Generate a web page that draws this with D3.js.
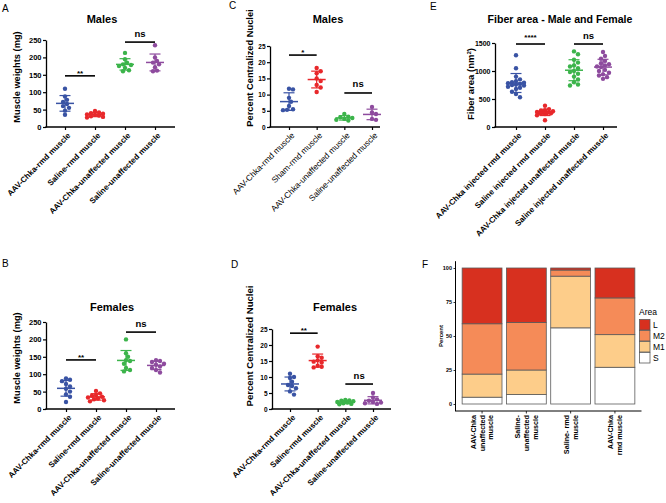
<!DOCTYPE html>
<html><head><meta charset="utf-8">
<script src="https://cdn.jsdelivr.net/npm/d3@7"></script>
<style>body{margin:0;background:#fff}svg{display:block}text{font-family:"Liberation Sans",Arial,sans-serif}</style>
</head><body><svg id="c" width="666" height="503"></svg>
<script>
// ---------------- DATA ----------------
const catsA = ["AAV-Chka-rmd muscle","Saline-rmd muscle","AAV-Chka-unaffected muscle","Saline-unaffected muscle"];
const catsC = ["AAV-Chka-rmd muscle","Sham-rmd muscle","AAV-Chka-unaffected muscle","Saline-unaffected muscle"];
const catsE = ["AAV-Chka injected rmd muscle","Saline injected rmd muscle","AAV-Chka injected unaffected muscle","Saline injected unaffected muscle"];

// A: male muscle weights (mg)
const maleWeights = [
  [110, 88, 78, 72, 66, 60, 55, 47, 35],
  [46, 42, 40, 38, 36, 35, 33, 31, 29, 27],
  [213, 195, 185, 180, 178, 175, 170, 163, 160],
  [235, 200, 190, 185, 180, 172, 162, 160]
];
// B: female muscle weights (mg)
const femaleWeights = [
  [88, 84, 80, 72, 65, 58, 50, 42, 35, 20],
  [52, 45, 40, 38, 35, 33, 30, 28, 25, 22],
  [200, 160, 150, 140, 138, 130, 118, 112, 108],
  [140, 138, 135, 130, 127, 122, 118, 112, 105]
];
// C: male percent centralized nuclei
const maleNuclei = [
  [11.8, 11.6, 9.0, 7.8, 6.5, 5.5, 5.3, 5.2],
  [18.2, 17.2, 16.6, 15.0, 14.2, 13.0, 12.2, 10.8],
  [4.0, 3.2, 3.0, 2.8, 2.5, 2.2, 2.0],
  [6.2, 4.5, 4.0, 2.5, 2.2]
];
// D: female percent centralized nuclei
const femaleNuclei = [
  [11.0, 10.0, 9.7, 8.5, 7.5, 7.2, 6.5, 5.5, 4.5],
  [19.5, 16.5, 16.0, 15.2, 14.8, 14.5, 13.5, 13.2, 13.0],
  [2.8, 2.7, 2.6, 2.4, 2.2, 2.0, 1.8, 1.6, 1.5],
  [5.0, 3.6, 3.0, 2.6, 2.2, 2.0, 1.8, 1.6]
];
// E: fiber area
const fiberArea = [
  [1280, 1050, 900, 850, 820, 800, 790, 780, 770, 760, 750, 740, 720, 700, 680, 630, 590, 530],
  [380, 320, 300, 290, 280, 270, 265, 260, 255, 250, 245, 240, 230, 210, 120],
  [1350, 1300, 1200, 1150, 1100, 1080, 1050, 1000, 980, 950, 900, 850, 800, 760, 740],
  [1340, 1270, 1220, 1180, 1140, 1120, 1100, 1080, 1070, 1020, 1000, 970, 940, 920, 890, 860]
];
// significance bars: group a, group b, value height, label
const sigA = [{a:0,b:1,v:147,label:"**"},{a:2,b:3,v:244,label:"ns"}];
const sigB = [{a:0,b:1,v:141,label:"**"},{a:2,b:3,v:221,label:"ns"}];
const sigC = [{a:0,b:1,v:22.2,label:"*"},{a:2,b:3,v:10.5,label:"ns"}];
const sigD = [{a:0,b:1,v:23.7,label:"**"},{a:2,b:3,v:7.8,label:"ns"}];
const sigE = [{a:0,b:1,v:1482,label:"****"},{a:2,b:3,v:1482,label:"ns"}];

const ticksWeight = [0, 50, 100, 150, 200, 250];
const ticksNuclei = [0, 5, 10, 15, 20, 25];
const ticksFiber = [0, 500, 1000, 1500];

// F: stacked percentages
const fCats = ["AAV-Chka unaffected muscle","Saline- unaffected muscle","Saline- rmd muscle","AAV-Chka rmd muscle"];
const fLabelLines = [["AAV-Chka","unaffected","muscle"],["Saline-","unaffected","muscle"],["Saline- rmd","muscle"],["AAV-Chka","rmd muscle"]];
const areaKeys = ["S","M1","M2","L"];
const pctS  = [5, 7, 56, 27];
const pctM1 = [17, 18, 38, 24];
const pctM2 = [37, 35, 4.5, 27];
const pctL  = [41, 40, 1.5, 22];
const ticksPct = [0, 25, 50, 75, 100];

// ---------------- STYLE ----------------
const FONT = '"Liberation Sans", Arial, sans-serif';
const colors = ["#3953A4","#E8282B","#3CB44B","#8E4B9E"];
const areaColor = {L:"#D7301F", M2:"#F58B58", M1:"#FDCD8A", S:"#FFFFFF"};
const svg = d3.select("#c");

// compact deterministic swarm offsets (pixels), limited width
function swarm(ys, d, maxOff){
  const order = d3.range(ys.length).sort((a,b)=>ys[a]-ys[b]);
  const placed = [], xs = new Array(ys.length);
  const cands = [0];
  for(let k=1;k*d/2<=maxOff;k++){ cands.push(k*d/2, -k*d/2); }
  order.forEach(i=>{
    let best = 0, bestScore = -1;
    for(const off of cands){
      const md = placed.length ? d3.min(placed, p=>Math.hypot(p.x-off, p.y-ys[i])) : Infinity;
      if(md >= d){ best = off; bestScore = Infinity; break; }
      if(md > bestScore){ bestScore = md; best = off; }
    }
    xs[i] = best; placed.push({x:best, y:ys[i]});
  });
  return xs;
}

function txt(g, x, y, s, fs, fw, anchor){
  return g.append("text").attr("x",x).attr("y",y).attr("font-size",fs)
    .attr("font-weight",fw||"normal").attr("text-anchor",anchor||"start")
    .attr("font-family",FONT).attr("fill","#000").text(s);
}

function dotPanel(o){
  const g = svg.append("g");
  const y = d3.scaleLinear().domain(o.yDomain).range(o.yRange);
  const x = d3.scalePoint().domain(o.cats).range(o.catRange);
  const ya = g.append("g").attr("transform",`translate(${o.ax0},0)`)
    .call(d3.axisLeft(y).tickValues(o.yTicks).tickFormat(d3.format("d")).tickSize(3).tickSizeOuter(0).tickPadding(1.5));
  ya.attr("font-family",FONT).attr("font-size",o.tickFs).attr("font-weight","bold");
  ya.select(".domain").attr("stroke","#000").attr("stroke-width",1.3);
  ya.selectAll(".tick line").attr("stroke-width",1.2);
  const xa = g.append("g").attr("transform",`translate(0,${o.yRange[0]})`)
    .call(d3.axisBottom(x).tickSize(3).tickFormat(""));
  xa.select(".domain").remove();
  xa.selectAll(".tick line").attr("stroke-width",1.2);
  g.append("line").attr("x1",o.ax0-0.65).attr("x2",o.ax1)
    .attr("y1",o.yRange[0]).attr("y2",o.yRange[0]).attr("stroke","#000").attr("stroke-width",1.3);
  // category labels
  g.selectAll(".xl").data(o.cats).join("text")
    .attr("transform",d=>`translate(${x(d)+6},${o.yRange[0]+9}) rotate(-45)`)
    .attr("text-anchor","end").attr("font-size",o.xFs).attr("font-weight",o.xFw)
    .attr("font-family",FONT).text(d=>d);
  // data
  o.data.forEach((vals,i)=>{
    const cx = x(o.cats[i]), col = colors[i];
    const ys = vals.map(v=>y(v));
    const offs = swarm(ys, 4, 9);
    g.selectAll(null).data(vals).join("circle")
      .attr("cx",(d,j)=>cx+offs[j]).attr("cy",d=>y(d)).attr("r",2.2).attr("fill",col);
    const m = d3.mean(vals), sd = d3.deviation(vals);
    g.append("line").attr("x1",cx).attr("x2",cx).attr("y1",y(m+sd)).attr("y2",y(m-sd))
      .attr("stroke",col).attr("stroke-width",1.2);
    [m+sd, m-sd].forEach(v=>g.append("line").attr("x1",cx-5.5).attr("x2",cx+5.5)
      .attr("y1",y(v)).attr("y2",y(v)).attr("stroke",col).attr("stroke-width",1.2));
    g.append("line").attr("x1",cx-9).attr("x2",cx+9).attr("y1",y(m)).attr("y2",y(m))
      .attr("stroke",col).attr("stroke-width",1.5);
  });
  // significance
  o.sig.forEach(s=>{
    const x1 = x(o.cats[s.a]), x2 = x(o.cats[s.b]), yy = y(s.v);
    g.append("line").attr("x1",x1).attr("x2",x2).attr("y1",yy).attr("y2",yy)
      .attr("stroke","#000").attr("stroke-width",1.6);
    if(s.label==="ns") txt(g,(x1+x2)/2,yy-5.5,"ns",9.5,"bold","middle");
    else txt(g,(x1+x2)/2,yy+(s.label.length>3?-4:0),s.label,8,"bold","middle");
  });
  // title and y label
  txt(g,o.titleX,o.titleY,o.title,o.titleFs||11,"bold","middle");
  const yl = g.append("text").attr("transform",`translate(${o.ylX},${o.ylY}) rotate(-90)`)
    .attr("text-anchor","middle").attr("font-size",o.ylFs).attr("font-weight","bold")
    .attr("font-family",FONT);
  if(o.ylSup){
    yl.append("tspan").text(o.ylabel);
    yl.append("tspan").attr("font-size",o.ylFs*0.65).attr("dy",-3.5).text(o.ylSup);
    yl.append("tspan").attr("dy",3.5).text(")");
  } else yl.text(o.ylabel);
}

dotPanel({cats:catsA,data:maleWeights,yDomain:[0,250],yRange:[127,40],yTicks:ticksWeight,
  ax0:46,ax1:175,catRange:[65,155],tickFs:7.5,xFs:8,xFw:"bold",sig:sigA,
  title:"Males",titleX:102,titleY:23,ylabel:"Muscle weights (mg)",ylX:20,ylY:77,ylFs:9.3});
dotPanel({cats:catsA,data:femaleWeights,yDomain:[0,250],yRange:[409,322],yTicks:ticksWeight,
  ax0:46,ax1:175,catRange:[66,156],tickFs:7.5,xFs:8,xFw:"bold",sig:sigB,
  title:"Females",titleX:112,titleY:311,ylabel:"Muscle weights (mg)",ylX:20,ylY:358,ylFs:9.3});
dotPanel({cats:catsC,data:maleNuclei,yDomain:[0,25],yRange:[127,46],yTicks:ticksNuclei,
  ax0:270,ax1:380,catRange:[289,372],tickFs:6.5,xFs:8.3,xFw:"normal",sig:sigC,
  title:"Males",titleX:328,titleY:23,ylabel:"Percent Centralized Nuclei",ylX:253,ylY:68,ylFs:9.3});
dotPanel({cats:catsA,data:femaleNuclei,yDomain:[0,25],yRange:[409,329],yTicks:ticksNuclei,
  ax0:272,ax1:391,catRange:[290,373],tickFs:6.5,xFs:8,xFw:"bold",sig:sigD,
  title:"Females",titleX:335,titleY:311,ylabel:"Percent Centralized Nuclei",ylX:253,ylY:346,ylFs:9.6});
dotPanel({cats:catsE,data:fiberArea,yDomain:[0,1500],yRange:[127,43],yTicks:ticksFiber,
  ax0:495,ax1:617,catRange:[516,603],tickFs:7,xFs:8,xFw:"bold",sig:sigE,
  title:"Fiber area - Male and Female",titleX:560,titleY:23,titleFs:10.6,
  ylabel:"Fiber area (nm",ylSup:"2",ylX:474,ylY:84,ylFs:9.5});

// ---------------- PANEL F ----------------
(function(){
  const g = svg.append("g");
  const fx = d3.scaleBand().domain(fCats).range([455.5,641.5]).paddingInner(0.1).paddingOuter(0.15);
  const fy = d3.scaleLinear().domain([0,100]).range([404,268]);
  const rows = fCats.map((c,i)=>({cat:c,S:pctS[i],M1:pctM1[i],M2:pctM2[i],L:pctL[i]}));
  const layers = d3.stack().keys(areaKeys)(rows);
  layers.forEach(layer=>{
    g.selectAll(null).data(layer).join("rect")
      .attr("x",d=>fx(d.data.cat)).attr("width",fx.bandwidth())
      .attr("y",d=>fy(d[1])).attr("height",d=>fy(d[0])-fy(d[1]))
      .attr("fill",areaColor[layer.key]).attr("stroke","#5a5a5a").attr("stroke-width",0.8);
  });
  const ya = g.append("g").attr("transform","translate(455.5,0)")
    .call(d3.axisLeft(fy).tickValues(ticksPct).tickSize(2).tickSizeOuter(0).tickPadding(1.5));
  ya.attr("font-family",FONT).attr("font-size",5.5).attr("font-weight","bold");
  ya.select(".domain").remove();
  ya.selectAll(".tick line").attr("stroke-width",0.8);
  g.append("line").attr("x1",455.5).attr("x2",455.5).attr("y1",261.2).attr("y2",411)
    .attr("stroke","#000").attr("stroke-width",1);
  g.append("line").attr("x1",455).attr("x2",641.5).attr("y1",411).attr("y2",411)
    .attr("stroke","#000").attr("stroke-width",1);
  fCats.forEach((c,i)=>{
    const cx = fx(c)+fx.bandwidth()/2;
    g.append("line").attr("x1",cx).attr("x2",cx).attr("y1",411).attr("y2",413.5)
      .attr("stroke","#000").attr("stroke-width",0.8);
    const lines = fLabelLines[i], n = lines.length;
    lines.forEach((s,k)=>{
      g.append("text").attr("transform",`translate(${cx+(k-(n-1)/2)*8.6+2.6},415) rotate(-90)`)
        .attr("text-anchor","end").attr("font-size",7.2).attr("font-weight","bold")
        .attr("font-family",FONT).text(s);
    });
  });
  g.append("text").attr("transform","translate(443,336) rotate(-90)").attr("text-anchor","middle")
    .attr("font-size",6).attr("font-weight","bold").attr("font-family",FONT).text("Percent");
  // legend
  txt(g,639,314.5,"Area",8.5);
  areaKeys.slice().reverse().forEach((k,i)=>{
    g.append("rect").attr("x",639.5).attr("y",319.5+i*11).attr("width",10.5).attr("height",10.5)
      .attr("fill",areaColor[k]).attr("stroke","#5a5a5a").attr("stroke-width",0.8);
    txt(g,653,328+i*11,k,8.5);
  });
})();

// panel letters
[["A",2,12],["B",2,267],["C",229,9],["D",231,268],["E",430,10],["F",422,268]]
  .forEach(p=>txt(svg,p[1],p[2],p[0],10,"normal"));
</script>
</body></html>
